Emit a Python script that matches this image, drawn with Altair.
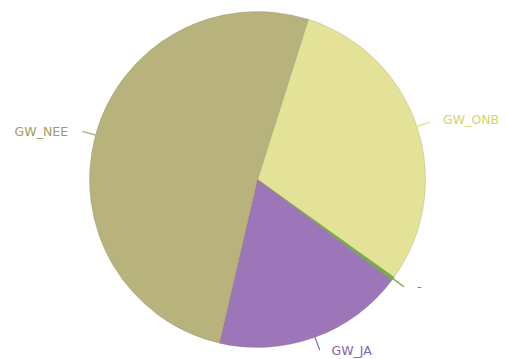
import math
import altair as alt
import pandas as pd

categories = ["GW_ONB", "-", "GW_JA", "GW_NEE"]
values = [30.0, 0.35, 18.4, 51.25]
slice_colors = ["#e4e296", "#72b046", "#9c76b9", "#b8b27d"]
label_colors = ["#d6d36a", "#5a9a34", "#8a60b0", "#a29c58"]

df = pd.DataFrame({"category": categories, "value": values, "order": list(range(len(categories)))})

OFF = 0.307
TAU = 2 * math.pi

base = (
    alt.Chart(df)
    .transform_joinaggregate(total="sum(value)")
    .transform_window(cum="sum(value)", sort=[alt.SortField("order")], frame=[None, 0])
    .transform_calculate(
        start=f"{OFF} + {TAU} * (datum.cum - datum.value) / datum.total",
        end=f"{OFF} + {TAU} * datum.cum / datum.total",
    )
    .transform_calculate(mid="(datum.start + datum.end) / 2", mid2="(datum.start + datum.end) / 2 + 0.0001")
)

slice_scale = alt.Scale(domain=categories, range=slice_colors)
label_scale = alt.Scale(domain=categories, range=label_colors)

pie = base.mark_arc(outerRadius=168, stroke="#6f6a40", strokeWidth=0.6, strokeOpacity=0.35).encode(
    theta=alt.Theta("start:Q", scale=None),
    theta2="end:Q",
    color=alt.Color("category:N", scale=slice_scale, legend=None),
)

connectors = base.mark_arc(radius=168, radius2=181, filled=False, strokeWidth=1.3).encode(
    theta=alt.Theta("mid:Q", scale=None),
    theta2="mid2:Q",
    stroke=alt.Stroke("category:N", scale=slice_scale, legend=None),
)

text_common = dict(radius=184, font="DejaVu Sans", fontSize=12.5, baseline="middle")

left_labels = base.transform_filter("sin(datum.mid) < 0").mark_text(align="right", dx=-12, dy=1, **text_common).encode(
    theta=alt.Theta("mid:Q", scale=None),
    text="category:N",
    color=alt.Color("category:N", scale=label_scale, legend=None),
)
right_labels = base.transform_filter("sin(datum.mid) >= 0").mark_text(align="left", dx=11, dy=-1, **text_common).encode(
    theta=alt.Theta("mid:Q", scale=None),
    text="category:N",
    color=alt.Color("category:N", scale=label_scale, legend=None),
)

chart = (
    alt.layer(pie, connectors, left_labels, right_labels)
    .resolve_scale(color="independent", stroke="independent")
    .properties(
        width=497,
        height=359,
        autosize=alt.AutoSizeParams(type="none"),
        padding={"left": 9, "top": 0, "right": 0, "bottom": 0},
        background="white",
    )
    .configure_view(stroke=None)
)

chart.save("out.html", embed_options={"renderer": "svg", "actions": False})
